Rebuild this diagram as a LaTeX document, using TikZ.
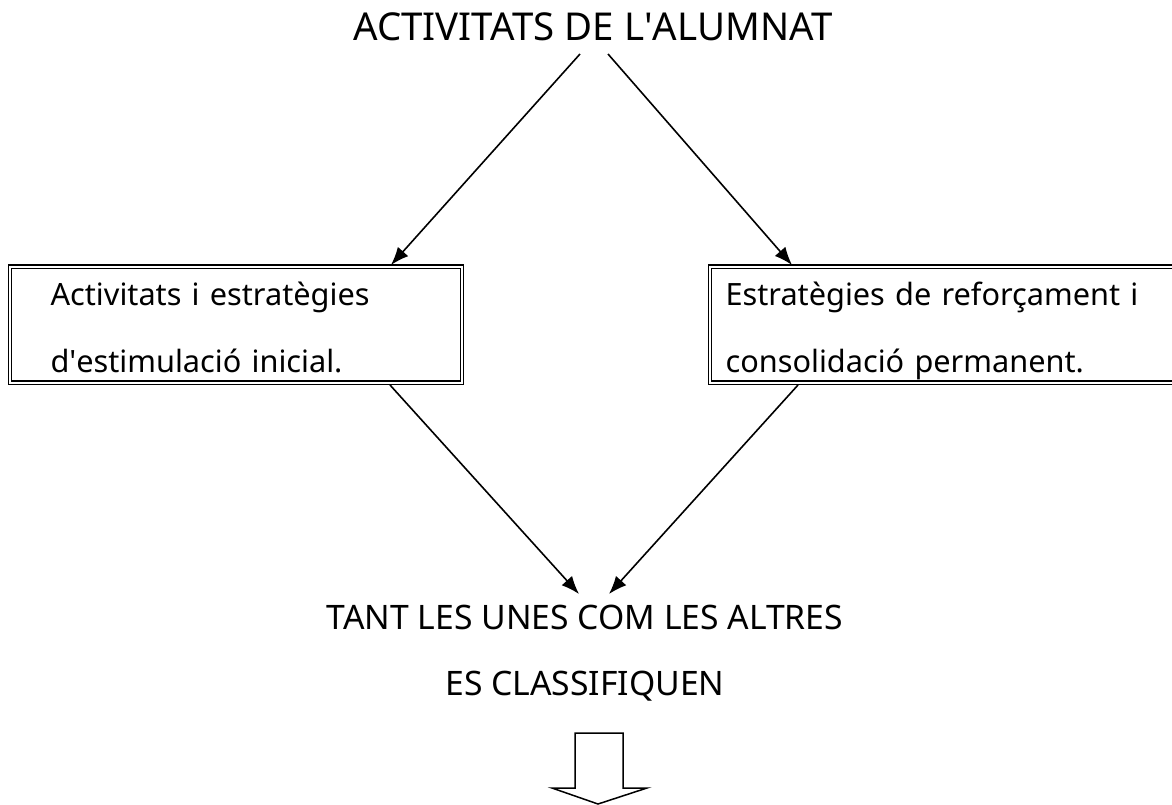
\documentclass[tikz,border=0pt]{standalone}
\usepackage{fontspec}
\setmainfont{Noto Sans}
\usetikzlibrary{arrows.meta}
\begin{document}
\begin{tikzpicture}[x=1pt,y=-1pt,
  dbox/.style={draw, double, double distance=2pt, line width=1.1pt, rectangle, align=left,
    inner ysep=0pt, text height=38.5pt, text depth=77.5pt, anchor=base west,
    font=\fontsize{30.7}{67}\selectfont},
  conn/.style={line width=1.6pt, -{Latex[length=18pt,width=14pt]}},
  lbl/.style={anchor=base, inner sep=0pt, font=\fontsize{33.7}{40}\selectfont}]
\useasboundingbox (0,0) rectangle (1172,804);
\node[lbl, font=\fontsize{38.4}{44}\selectfont] (title) at (593,40) {ACTIVITATS DE L\textquotesingle ALUMNAT};
\node[dbox, inner xsep=40.5pt, text width=371pt] (b1) at (9.5,305)
  {Activitats i estratègies\\d\textquotesingle estimulació inicial.};
\node[dbox, inner xsep=15.5pt, text width=450pt] (b2) at (709.5,305)
  {Estratègies de reforçament i\\consolidació permanent.};
\node[lbl] (t1) at (585,629) {TANT LES UNES COM LES ALTRES};
\node[lbl] (t2) at (585,695) {ES CLASSIFIQUEN};
\coordinate (s1) at (580,54);
\coordinate (s2) at (608,54);
\coordinate (e1) at (391,265);
\coordinate (e2) at (792,265);
\coordinate (s3) at (390,385);
\coordinate (s4) at (798,385);
\coordinate (e3) at (579,594);
\coordinate (e4) at (609,594);
\draw[conn] (s1) -- (e1);
\draw[conn] (s2) -- (e2);
\draw[conn] (s3) -- (e3);
\draw[conn] (s4) -- (e4);
\draw[line width=1.5pt, line join=miter] (575,733) -- (575,788) -- (552,788) -- (598,804) -- (647,788) -- (623,788) -- (623,733) -- cycle;
\end{tikzpicture}
\end{document}
